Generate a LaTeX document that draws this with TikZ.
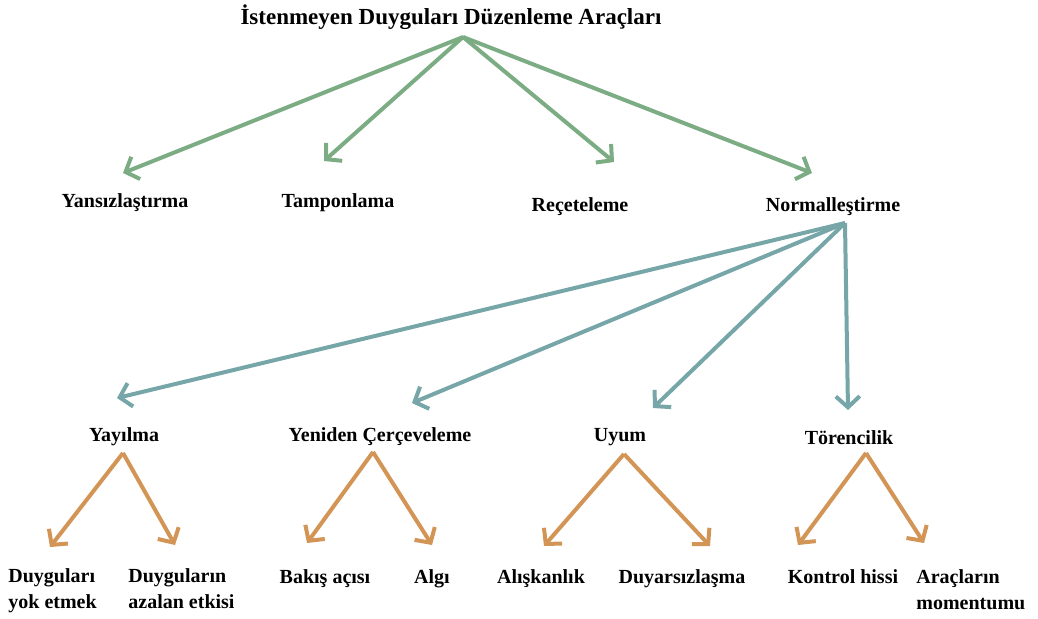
\documentclass[tikz,border=0pt]{standalone}
\usepackage{fontspec}
\setmainfont{Liberation Serif}
\usetikzlibrary{arrows.meta}
\definecolor{arrgreen}{RGB}{124,172,131}
\definecolor{arrteal}{RGB}{118,166,168}
\definecolor{arrorange}{RGB}{211,149,86}

\begin{document}
\begin{tikzpicture}[x=0.5pt, y=-0.5pt,
        lab/.style={font=\fontsize{10}{13}\selectfont\bfseries, inner sep=0pt},
        barb/.style={line width=2pt, -{Straight Barb[length=5.5pt, width=12pt]}}]
    \useasboundingbox (0,0) rectangle (1038,618);
    % root
    \node[lab, font=\fontsize{11.5}{14}\selectfont\bfseries] (root) at (451,17)
    {İstenmeyen Duyguları Düzenleme Araçları};
    % first level
    \node[lab] (yansiz) at (125,203) {Yansızlaştırma};
    \node[lab] (tampon) at (338,203) {Tamponlama};
    \node[lab] (recete) at (580,207) {Reçeteleme};
    \node[lab] (normal) at (833,207) {Normalleştirme};
    % second level
    \node[lab] (yayilma) at (124,437) {Yayılma};
    \node[lab] (cerceve) at (380,437) {Yeniden Çerçeveleme};
    \node[lab] (uyum) at (620,437) {Uyum};
    \node[lab] (toren) at (849,438) {Törencilik};
    % third level
    \node[lab, align=left, anchor=base west] (yoketme) at (8,608)
    {Duyguları\\yok etmek};
    \node[lab, align=left, anchor=base west] (azalan) at (128,608)
    {Duyguların\\azalan etkisi};
    \node[lab, anchor=base] (bakis) at (325,583) {Bakış açısı};
    \node[lab, anchor=base] (algi) at (432,583) {Algı};
    \node[lab, anchor=base] (aliskan) at (541,583) {Alışkanlık};
    \node[lab, anchor=base] (duyars) at (682,583) {Duyarsızlaşma};
    \node[lab, anchor=base] (kontrol) at (843,583) {Kontrol hissi};
    \node[lab, align=left, anchor=base west] (momentum) at (916,609)
    {Araçların\\momentumu};
    % arrow starts under the labels
    \coordinate (rootpt) at (463,37);
    \coordinate (normalpt) at (845,223);
    \coordinate (yayilmapt) at (123,453);
    \coordinate (cercevept) at (373,452);
    \coordinate (uyumpt) at (624,454);
    \coordinate (torenpt) at (866,453);
    % arrow tips over the labels
    \coordinate (yansiztip) at (123,173);
    \coordinate (tampontip) at (324,161);
    \coordinate (recetetip) at (614,162);
    \coordinate (normaltip) at (812,173);
    \coordinate (yayilmatip) at (117,398);
    \coordinate (cercevetip) at (412,403);
    \coordinate (uyumtip) at (653,408);
    \coordinate (torentip) at (848,410);
    \coordinate (yoketmetip) at (50,547);
    \coordinate (azalantip) at (175,545);
    \coordinate (bakistip) at (307,543);
    \coordinate (algitip) at (432,545);
    \coordinate (aliskantip) at (544,546);
    \coordinate (duyarstip) at (710,546);
    \coordinate (kontroltip) at (798,545);
    \coordinate (momentumtip) at (924,543);
    % green arrows
    \draw[barb, arrgreen] (rootpt) -- (yansiztip);
    \draw[barb, arrgreen] (rootpt) -- (tampontip);
    \draw[barb, arrgreen] (rootpt) -- (recetetip);
    \draw[barb, arrgreen] (rootpt) -- (normaltip);
    % teal arrows
    \draw[barb, arrteal] (normalpt) -- (yayilmatip);
    \draw[barb, arrteal] (normalpt) -- (cercevetip);
    \draw[barb, arrteal] (normalpt) -- (uyumtip);
    \draw[barb, arrteal] (normalpt) -- (torentip);
    % orange arrows
    \draw[barb, arrorange] (yayilmapt) -- (yoketmetip);
    \draw[barb, arrorange] (yayilmapt) -- (azalantip);
    \draw[barb, arrorange] (cercevept) -- (bakistip);
    \draw[barb, arrorange] (cercevept) -- (algitip);
    \draw[barb, arrorange] (uyumpt) -- (aliskantip);
    \draw[barb, arrorange] (uyumpt) -- (duyarstip);
    \draw[barb, arrorange] (torenpt) -- (kontroltip);
    \draw[barb, arrorange] (torenpt) -- (momentumtip);
\end{tikzpicture}
\end{document}
